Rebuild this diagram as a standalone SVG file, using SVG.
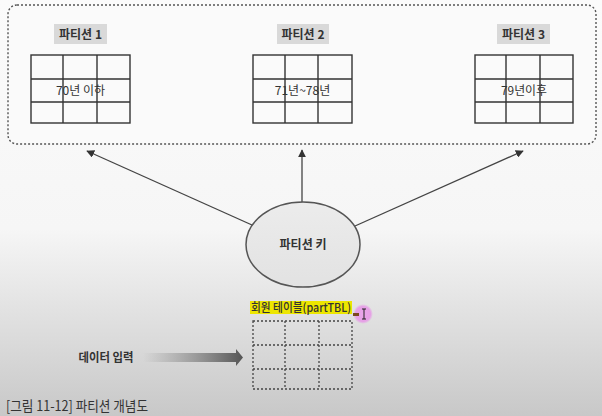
<svg xmlns="http://www.w3.org/2000/svg" width="602" height="416" viewBox="0 0 602 416">
<defs>
<linearGradient id="bg" x1="0" y1="0" x2="0" y2="1">
<stop offset="0" stop-color="#fbfbfb"/>
<stop offset="0.55" stop-color="#f6f6f6"/>
<stop offset="1" stop-color="#c8c8c8"/>
</linearGradient>
<linearGradient id="ell" x1="0" y1="0" x2="0" y2="1">
<stop offset="0" stop-color="#ececec"/>
<stop offset="1" stop-color="#e2e2e2"/>
</linearGradient>
<linearGradient id="arr" x1="0" y1="0" x2="1" y2="0">
<stop offset="0" stop-color="#777" stop-opacity="0"/>
<stop offset="1" stop-color="#555"/>
</linearGradient>
<radialGradient id="pink">
<stop offset="0" stop-color="#e9a6ea"/>
<stop offset="0.75" stop-color="#e6a0e6"/>
<stop offset="1" stop-color="#e6a0e6" stop-opacity="0"/>
</radialGradient>
<marker id="ah" viewBox="0 0 10 10" refX="9" refY="5" markerWidth="8" markerHeight="8" markerUnits="userSpaceOnUse" orient="auto">
<path d="M0,0 L10,5 L0,10 z" fill="#333"/>
</marker>
<style>
text{font-family:"Noto Sans CJK KR","Noto Sans",sans-serif;fill:#333;}
.lbl{font-size:12px;text-anchor:middle;font-weight:bold;}
.cell{font-size:12px;text-anchor:middle;}
.grid{fill:none;stroke:#333;stroke-width:1.4;}
.dgrid{fill:none;stroke:#444;stroke-width:1.3;stroke-dasharray:2 2;}
.lbox{fill:#d9d9d9;}
.conn{stroke:#444;stroke-width:1.3;fill:none;marker-end:url(#ah);}
</style>
</defs>
<rect width="602" height="416" fill="url(#bg)"/>
<rect x="8" y="5" width="588" height="139" rx="9" fill="#fafafa" stroke="#555" stroke-width="1.4" stroke-dasharray="2 2"/>

<g id="partition1">
<rect class="lbox" x="54" y="24" width="53" height="20"/>
<text class="lbl" x="80.5" y="38.5">파티션 1</text>
<rect class="grid" x="31" y="55" width="99" height="68"/>
<path class="grid" d="M63,55V123M97,55V123M31,79H130M31,102H130"/>
<text class="cell" x="80.5" y="95">70년 이하</text>
</g>

<g id="partition2">
<rect class="lbox" x="277" y="24" width="52" height="20"/>
<text class="lbl" x="303" y="38.5">파티션 2</text>
<rect class="grid" x="253" y="55" width="99" height="68"/>
<path class="grid" d="M285,55V123M318,55V123M253,79H352M253,102H352"/>
<text class="cell" x="302.5" y="95">71년~78년</text>
</g>

<g id="partition3">
<rect class="lbox" x="497" y="24" width="53" height="20"/>
<text class="lbl" x="523.5" y="38.5">파티션 3</text>
<rect class="grid" x="475" y="55" width="98" height="68"/>
<path class="grid" d="M506,55V123M540,55V123M475,79H573M475,102H573"/>
<text class="cell" x="524" y="95" textLength="46" lengthAdjust="spacingAndGlyphs">79년이후</text>
</g>

<g id="connectors">
<line class="conn" x1="252" y1="225" x2="87" y2="151"/>
<line class="conn" x1="302" y1="202" x2="302" y2="150"/>
<line class="conn" x1="355" y1="226" x2="523" y2="151"/>
<path d="M143,353 H236 V349 L243,357.5 L236,366 V362 H143 z" fill="url(#arr)"/>
</g>

<g id="partitionKey">
<ellipse cx="303" cy="244.5" rx="57" ry="42.5" fill="url(#ell)" stroke="#555" stroke-width="1.5"/>
<text x="303" y="249" font-size="12" font-weight="bold" text-anchor="middle">파티션 키</text>
</g>

<g id="memberTable">
<rect x="250" y="301" width="102" height="13" fill="#ede600"/>
<text x="301" y="312" font-size="12" font-weight="500" text-anchor="middle" textLength="100" lengthAdjust="spacingAndGlyphs">회원 테이블(partTBL)</text>
<rect class="dgrid" x="253" y="321" width="99" height="68"/>
<path class="dgrid" d="M285,321V389M319,321V389M253,345H352M253,369H352"/>
</g>

<g id="cursor">
<circle cx="363" cy="314" r="10" fill="url(#pink)"/>
<rect x="353" y="313" width="6" height="3" fill="#7a4a20"/>
<path d="M362,309 H366 M364,309 V319 M362,319 H366" stroke="#222" stroke-width="1" fill="none"/>
</g>

<g id="dataInput">
<text x="106" y="362" font-size="12" font-weight="bold" text-anchor="middle" textLength="55" lengthAdjust="spacingAndGlyphs">데이터 입력</text>
</g>

<text x="6" y="410.5" font-size="14" textLength="142" lengthAdjust="spacingAndGlyphs">[그림 11-12] 파티션 개념도</text>
</svg>
